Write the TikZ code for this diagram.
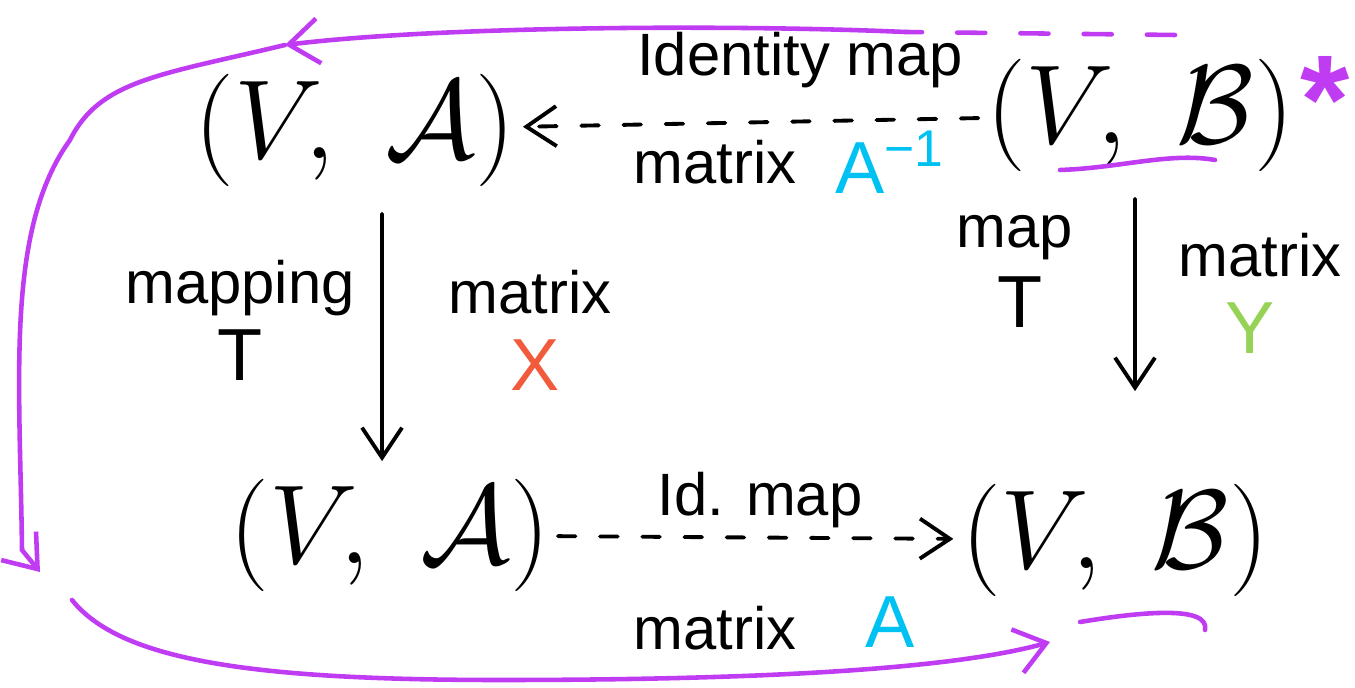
\documentclass[tikz,border=0pt]{standalone}
\usepackage{fix-cm}
\usepackage{fontspec}
\setmainfont{Liberation Sans}
\usetikzlibrary{arrows.meta}
\definecolor{LoopPurple}{HTML}{C03CF2}
\definecolor{InvCyan}{HTML}{00C2F2}
\definecolor{XRed}{HTML}{F25A3C}
\definecolor{YGreen}{HTML}{96D255}

\begin{document}
\begin{tikzpicture}[
  pair/.style={font=\fontsize{32}{38}\selectfont,inner sep=2pt},
  lbl/.style={font=\fontsize{17}{20}\selectfont},
  big/.style={font=\fontsize{21}{24}\selectfont},
  arr/.style={-{Straight Barb[length=3mm,width=4mm]},line width=1.1pt,line cap=round},
  dasharr/.style={arr,dash pattern=on 5pt off 7pt},
  purpleline/.style={draw=LoopPurple,line width=1.3pt,line cap=round},
  purplearr/.style={purpleline,-{Straight Barb[length=3mm,width=4.5mm]}}
]
\useasboundingbox (0,0) rectangle (13.55,-6.88);
% the four pairs
\node[pair] (VAtop) at (3.55,-1.30) {$(V,\ \mathcal{A})$};
\node[pair] (VBtop) at (11.40,-1.15) {$(V,\ \mathcal{B})$};
\node[pair] (VAbot) at (3.90,-5.35) {$(V,\ \mathcal{A})$};
\node[pair] (VBbot) at (11.15,-5.40) {$(V,\ \mathcal{B})$};
% maps between them
\draw[dasharr] (VBtop) -- (VAtop);
\draw[dasharr] (VAbot) -- (VBbot);
\draw[arr,shorten <=2mm,shorten >=1mm] ([xshift=2.7mm]VAtop.south) -- ([xshift=-0.8mm]VAbot.north);
\draw[arr,shorten <=2mm,shorten >=8.5mm] ([xshift=-0.5mm]VBtop.south) -- ([xshift=2mm]VBbot.north);
% labels
\node[lbl] (idmap) at (8.00,-0.60) {Identity map};
\node[lbl] (topmat) at (7.15,-1.62) {matrix};
\node[big,text=InvCyan] (topinv) at (8.90,-1.62) {A\textsuperscript{−1}};
\node[lbl] (leftmap) at (2.40,-2.88) {mapping};
\node[big] (leftT) at (2.40,-3.55) {T};
\node[lbl] (leftmat) at (5.30,-2.92) {matrix};
\node[big,text=XRed] (leftX) at (5.35,-3.65) {X};
\node[lbl] (rightmap) at (10.15,-2.38) {map};
\node[big] (rightT) at (10.20,-3.02) {T};
\node[lbl] (rightmat) at (12.60,-2.55) {matrix};
\node[big,text=YGreen] (rightY) at (12.50,-3.28) {Y};
\node[lbl] (botmap) at (7.60,-5.00) {Id. map};
\node[lbl] (botmat) at (7.15,-6.28) {matrix};
\node[big,text=InvCyan] (botA) at (8.90,-6.22) {A};
\node[text=LoopPurple,font=\fontsize{36}{36}\selectfont\bfseries] (star) at (13.25,-1.00) {*};
% purple loop
\coordinate (loopstart) at (11.75,-0.35);
\coordinate (dashend) at (9.05,-0.32);
\coordinate (toptip) at (2.85,-0.45);
\coordinate (lefttip) at (0.40,-5.72);
\coordinate (botstart) at (0.72,-6.00);
\coordinate (bottip) at (10.50,-6.42);
\draw[purpleline,dash pattern=on 8pt off 10pt] (loopstart) -- (dashend);
\draw[purplearr] (dashend) .. controls (7.5,-0.25) and (4.5,-0.25) .. (toptip);
\draw[purplearr] (toptip) .. controls (1.6,-0.75) and (1.0,-0.80) .. (0.70,-1.40)
  .. controls (0.05,-2.30) and (0.20,-3.80) .. (0.22,-5.50) -- (lefttip);
\draw[purplearr] (botstart) .. controls (1.20,-6.60) and (2.50,-6.80) .. (5.00,-6.80)
  .. controls (7.50,-6.80) and (9.50,-6.70) .. (bottip);
% underlines
\draw[purpleline] (10.60,-1.70) .. controls (11.20,-1.68) and (11.70,-1.52) .. (12.15,-1.60);
\draw[purpleline] (10.80,-6.22) .. controls (11.40,-6.12) and (12.10,-6.05) .. (12.05,-6.30);
\end{tikzpicture}
\end{document}
